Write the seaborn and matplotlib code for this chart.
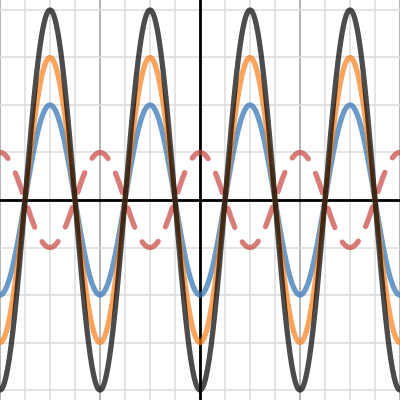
import numpy as np
import pandas as pd
import matplotlib
matplotlib.use("Agg")
import matplotlib.pyplot as plt
import seaborn as sns

# Function definitions: y = amp * cos(x)
names = ["red", "blue", "orange", "black"]
amplitudes = [1, -2, -3, -4]
colors = ["#c74440", "#2d70b3", "#fa7e19", "#000000"]
styles = ["dashed", "solid", "solid", "solid"]

x_min, x_max = -4 * np.pi, 4 * np.pi
y_min, y_max = -4.21, 4.21

x = np.linspace(x_min, x_max, 2000)
frames = []
for n, a in zip(names, amplitudes):
    frames.append(pd.DataFrame({"x": x, "y": a * np.cos(x), "curve": n}))
df = pd.concat(frames, ignore_index=True)

sns.set_style("white")
fig = plt.figure(figsize=(4, 4), dpi=100)
ax = fig.add_axes([0, 0, 1, 1])

# grid
for gx in np.arange(-8, 9) * np.pi / 2:
    r = (gx / (2 * np.pi)) % 1
    major = np.isclose(r, 0) or np.isclose(r, 1)
    ax.axvline(gx, color="#a0a0a0" if major else "#dcdcdc", lw=1.1, zorder=0)
for gy in range(-4, 5):
    ax.axhline(gy, color="#dcdcdc", lw=1.1, zorder=0)
ax.axhline(0, color="black", lw=2, zorder=1)
ax.axvline(0, color="black", lw=2, zorder=1)

for n, c, s in zip(names, colors, styles):
    sub = df[df["curve"] == n]
    sns.lineplot(data=sub, x="x", y="y", ax=ax, color=c, lw=3.8, alpha=0.7,
                 estimator=None, sort=False, zorder=2)
    line = ax.lines[-1]
    if s == "dashed":
        line.set_linestyle((1.95, (3.9, 3.1)))
        line.set_dash_capstyle("round")

ax.set_xlim(x_min, x_max)
ax.set_ylim(y_min, y_max)
ax.set_xticks([])
ax.set_yticks([])
ax.set_xlabel("")
ax.set_ylabel("")
for sp in ax.spines.values():
    sp.set_visible(False)
if ax.get_legend():
    ax.get_legend().remove()

fig.savefig("out.png", dpi=100)
